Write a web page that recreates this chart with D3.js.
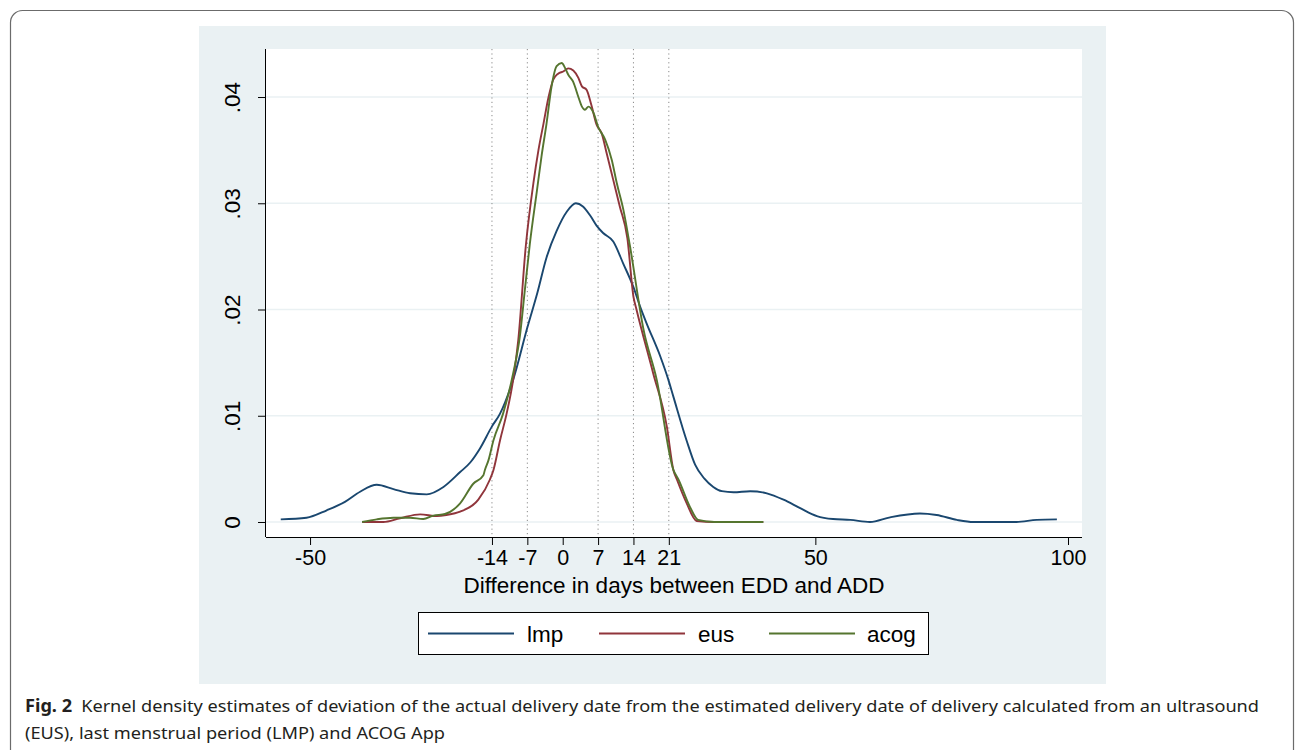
<!DOCTYPE html>
<html>
<head>
<meta charset="utf-8">
<script src="https://cdn.jsdelivr.net/npm/d3@7"></script>
<style>
  body { margin: 0; background: #fff; }
  svg { display: block; }
</style>
</head>
<body>
<div id="chart"></div>
<script>
// Kernel density curves (x = days, y = density)
const lmpX = [-55.8, -50.7, -46.7, -43.1, -40.1, -36.8, -33.5, -30.2, -26.9, -23.6, -20.3, -18.3, -16.4, -14, -12.4, -9.8, -7, -5, -3.2, -1.2, 0.8, 2.6, 4, 5.5, 6.7, 8, 10, 12, 14, 15.3, 16.6, 19.3, 20.9, 21.9, 24.5, 26.2, 28, 29.8, 31.5, 33.8, 37.1, 40.4, 43.7, 47, 50.3, 53.5, 56.9, 60.8, 64.8, 70.7, 74, 78, 81.3, 89.8, 93.8, 97.8];
const lmpY = [0.00025, 0.0004, 0.0011, 0.0019, 0.00285, 0.0035, 0.0031, 0.0027, 0.0026, 0.0033, 0.0047, 0.0056, 0.0069, 0.009, 0.0102, 0.0134, 0.0183, 0.0216, 0.0249, 0.0274, 0.0292, 0.03, 0.0297, 0.0288, 0.0279, 0.0272, 0.0264, 0.0243, 0.0221, 0.0203, 0.0187, 0.0156, 0.0134, 0.0118, 0.0077, 0.0054, 0.0041, 0.0033, 0.0029, 0.0028, 0.0029, 0.0027, 0.0021, 0.0013, 0.00056, 0.00028, 0.0002, 0, 0.00044, 0.0008, 0.00066, 0.0002, 0, 0, 0.0002, 0.00025];

const eusX = [-39.7, -35.5, -32.2, -28.2, -24.9, -23, -20.3, -16.7, -14.4, -13.7, -12.4, -11.1, -9.8, -8.8, -7.3, -5.8, -4.8, -3.8, -2.8, -1.9, -0.9, 0.1, 1.1, 2.1, 3.1, 3.8, 4.7, 5.7, 6.7, 7.7, 8.7, 10, 11.3, 12.8, 14, 14.6, 17.9, 20.6, 21.9, 22.6, 24.5, 26.5, 30, 39.7];
const eusY = [0, 0, 0.00035, 0.00072, 0.00056, 0.00066, 0.00097, 0.0021, 0.004, 0.0049, 0.0077, 0.0102, 0.0134, 0.0171, 0.026, 0.0319, 0.035, 0.0375, 0.04, 0.0416, 0.0422, 0.0424, 0.0427, 0.0425, 0.0418, 0.041, 0.0407, 0.0392, 0.0374, 0.0366, 0.0347, 0.0322, 0.0297, 0.0267, 0.0212, 0.02, 0.014, 0.009, 0.0049, 0.004, 0.0018, 0.0001, 0, 0];

const acogX = [-39.7, -36.8, -33.5, -30.2, -27.6, -25.6, -23.3, -20.3, -17.7, -15.7, -15.4, -14.7, -13.7, -11.8, -9.8, -8.5, -7.5, -6.5, -5.1, -4.2, -3.2, -2.2, -1.2, -0.2, 0.5, 1.1, 2.1, 3.1, 3.8, 4.4, 5.1, 6.1, 7, 8.4, 9.7, 10.7, 12, 13.3, 16, 18.6, 21.9, 22.9, 25.2, 26.8, 30, 39.7];
const acogY = [0, 0.00025, 0.0004, 0.0004, 0.00028, 0.0006, 0.00075, 0.00176, 0.0036, 0.0044, 0.0049, 0.0058, 0.0077, 0.0102, 0.014, 0.0174, 0.0218, 0.0262, 0.0312, 0.0344, 0.0375, 0.041, 0.0429, 0.0432, 0.0427, 0.0421, 0.0414, 0.04, 0.0391, 0.0388, 0.0391, 0.0385, 0.0372, 0.036, 0.0341, 0.0319, 0.0294, 0.026, 0.0181, 0.0134, 0.0049, 0.004, 0.0014, 0.0002, 0, 0];

const seriesNames = ["lmp", "eus", "acog"];
const seriesColors = ["#1a476f", "#90353b", "#55752f"];

const xTicks = [-50, -14, -7, 0, 7, 14, 21, 50, 100];
const refLines = [-14, -7, 7, 14, 21];
const yTicks = [0, 0.01, 0.02, 0.03, 0.04];
const yTickLabels = ["0", ".01", ".02", ".03", ".04"];

const W = 1295, H = 750;
const plot = { left: 266, top: 49, right: 1082, bottom: 537 };
const font = "'Liberation Sans', Arial, sans-serif";

const svg = d3.select("#chart").append("svg")
    .attr("width", W)
    .attr("height", H);

// Outer figure frame
svg.append("rect")
    .attr("x", 10.5).attr("y", 10.5)
    .attr("width", 1283).attr("height", 780)
    .attr("rx", 12).attr("ry", 12)
    .attr("fill", "#fff")
    .attr("stroke", "#6b6b6b")
    .attr("stroke-width", 1.2);

// Graph region (Stata style)
svg.append("rect")
    .attr("x", 199).attr("y", 26)
    .attr("width", 907).attr("height", 658)
    .attr("fill", "#eaf1f3");

svg.append("rect")
    .attr("x", plot.left).attr("y", plot.top)
    .attr("width", plot.right - plot.left).attr("height", plot.bottom - plot.top)
    .attr("fill", "#fff");

// Scales
const x = d3.scaleLinear().domain([-58.72, 102.77]).range([plot.left, plot.right]);
const y = d3.scaleLinear().domain([-0.001412, 0.04452]).range([plot.bottom, plot.top]);

// Grid lines
svg.append("g")
    .selectAll("line")
    .data(yTicks)
    .join("line")
    .attr("x1", plot.left).attr("x2", plot.right)
    .attr("y1", d => y(d)).attr("y2", d => y(d))
    .attr("stroke", "#eaf1f3")
    .attr("stroke-width", 1.6);

// Dotted reference lines
svg.append("g")
    .selectAll("line")
    .data(refLines)
    .join("line")
    .attr("x1", d => x(d)).attr("x2", d => x(d))
    .attr("y1", plot.top).attr("y2", plot.bottom)
    .attr("stroke", "#8a8a8a")
    .attr("stroke-width", 1)
    .attr("stroke-dasharray", "1.2,3.2");

// Axes
const xAxis = d3.axisBottom(x).tickValues(xTicks).tickSize(8).tickPadding(5).tickFormat(d => d);
const gx = svg.append("g")
    .attr("transform", "translate(0," + plot.bottom + ")")
    .call(xAxis);
gx.select(".domain").attr("d", "M" + plot.left + ",0.5H" + plot.right).attr("stroke", "#000");
gx.selectAll(".tick line").attr("stroke", "#000");
gx.selectAll(".tick text")
    .attr("fill", "#000")
    .style("font-family", font)
    .style("font-size", "21.5px");

const yAxis = d3.axisLeft(y).tickValues(yTicks).tickSize(8).tickFormat((d, i) => yTickLabels[i]);
const gy = svg.append("g")
    .attr("transform", "translate(" + plot.left + ",0)")
    .call(yAxis);
gy.select(".domain").attr("d", "M-0.5," + plot.top + "V" + plot.bottom).attr("stroke", "#000");
gy.selectAll(".tick line").attr("stroke", "#000");
gy.selectAll(".tick text")
    .attr("fill", "#000")
    .attr("x", null).attr("dy", null)
    .attr("text-anchor", "middle")
    .attr("transform", "translate(-26,0) rotate(-90)")
    .style("font-family", font)
    .style("font-size", "22.5px");

// x axis title
svg.append("text")
    .attr("x", (plot.left + plot.right) / 2)
    .attr("y", 593)
    .attr("text-anchor", "middle")
    .style("font-family", font)
    .style("font-size", "22.5px")
    .text("Difference in days between EDD and ADD");

// Curves
const line = d3.line()
    .x(d => x(d[0]))
    .y(d => y(d[1]))
    .curve(d3.curveMonotoneX);

const seriesData = [
    d3.zip(lmpX, lmpY),
    d3.zip(eusX, eusY),
    d3.zip(acogX, acogY)
];

// draw acog last so it sits on top like in the figure
[0, 1, 2].forEach(i => {
    svg.append("path")
        .datum(seriesData[i])
        .attr("fill", "none")
        .attr("stroke", seriesColors[i])
        .attr("stroke-width", 1.9)
        .attr("stroke-linejoin", "round")
        .attr("d", line);
});

// Legend
const legend = svg.append("g");
legend.append("rect")
    .attr("x", 418.5).attr("y", 612.5)
    .attr("width", 510).attr("height", 42)
    .attr("fill", "#fff")
    .attr("stroke", "#000")
    .attr("stroke-width", 1);

const legLineX = [428, 599, 769];
const legTextX = [527, 698, 867];
legend.selectAll("line")
    .data(seriesNames)
    .join("line")
    .attr("x1", (d, i) => legLineX[i]).attr("x2", (d, i) => legLineX[i] + 86)
    .attr("y1", 633.5).attr("y2", 633.5)
    .attr("stroke", (d, i) => seriesColors[i])
    .attr("stroke-width", 1.9);
legend.selectAll("text")
    .data(seriesNames)
    .join("text")
    .attr("x", (d, i) => legTextX[i])
    .attr("y", 641.5)
    .style("font-family", font)
    .style("font-size", "22.5px")
    .text(d => d);

// Caption
const cap = svg.append("g")
    .style("font-family", "'Noto Sans', 'Open Sans', sans-serif")
    .style("font-size", "17px")
    .attr("fill", "#231f20");
const c1 = cap.append("text").attr("x", 25).attr("y", 712)
    .attr("textLength", 1234).attr("lengthAdjust", "spacingAndGlyphs");
c1.append("tspan").style("font-weight", "bold").text("Fig. 2");
c1.append("tspan").text("\u2002Kernel density estimates of deviation of the actual delivery date from the estimated delivery date of delivery calculated from an ultrasound");
cap.append("text").attr("x", 25).attr("y", 739)
    .attr("textLength", 420).attr("lengthAdjust", "spacingAndGlyphs")
    .text("(EUS), last menstrual period (LMP) and ACOG App");
</script>
</body>
</html>
